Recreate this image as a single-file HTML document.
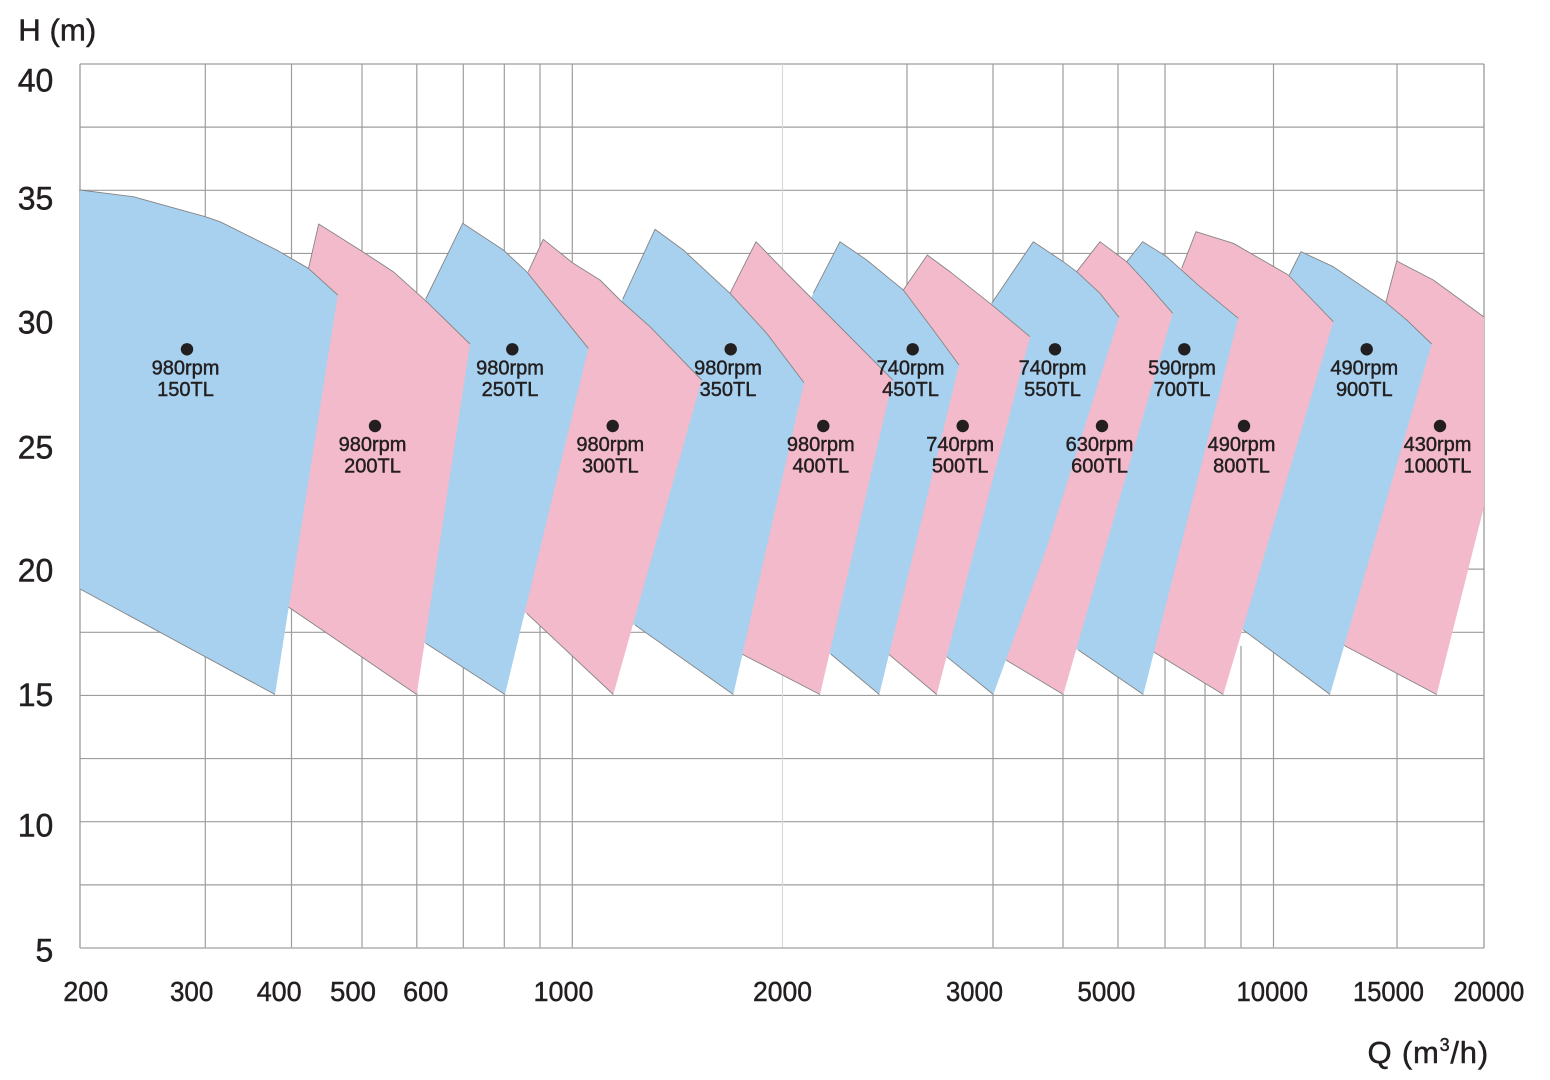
<!DOCTYPE html>
<html>
<head>
<meta charset="utf-8">
<style>
html,body{margin:0;padding:0;background:#fff;}
svg{display:block;}
text{font-family:"Liberation Sans",sans-serif;fill:#231f20;stroke:#231f20;stroke-width:0.45px;}
</style>
</head>
<body>
<svg width="1550" height="1080" viewBox="0 0 1550 1080" xmlns="http://www.w3.org/2000/svg">
<rect x="0" y="0" width="1550" height="1080" fill="#fff"/>

<!-- horizontal grid -->
<g stroke="#9d9d9d" stroke-width="1.2" fill="none">
<line x1="80" y1="64" x2="1484" y2="64"/>
<line x1="80" y1="127.14" x2="1484" y2="127.14"/>
<line x1="79" y1="190.29" x2="1484" y2="190.29"/>
<line x1="80" y1="253.43" x2="1484" y2="253.43"/>
<line x1="80" y1="316.57" x2="1484" y2="316.57"/>
<line x1="80" y1="379.71" x2="1484" y2="379.71"/>
<line x1="80" y1="442.86" x2="1484" y2="442.86"/>
<line x1="80" y1="506" x2="1484" y2="506"/>
<line x1="80" y1="569.14" x2="1484" y2="569.14"/>
<line x1="80" y1="632.29" x2="1484" y2="632.29"/>
<line x1="80" y1="695.43" x2="1484" y2="695.43"/>
<line x1="80" y1="758.57" x2="1484" y2="758.57"/>
<line x1="80" y1="821.71" x2="1484" y2="821.71"/>
<line x1="80" y1="884.86" x2="1484" y2="884.86"/>
</g>
<!-- vertical grid -->
<g stroke="#9d9d9d" stroke-width="1.2" fill="none">
<line x1="205.3" y1="64" x2="205.3" y2="948"/>
<line x1="291.5" y1="64" x2="291.5" y2="948"/>
<line x1="362" y1="64" x2="362" y2="948"/>
<line x1="416.8" y1="64" x2="416.8" y2="948"/>
<line x1="463.3" y1="64" x2="463.3" y2="948"/>
<line x1="504.3" y1="64" x2="504.3" y2="948"/>
<line x1="540" y1="64" x2="540" y2="948"/>
<line x1="572.3" y1="64" x2="572.3" y2="948"/>
<line x1="907" y1="64" x2="907" y2="600"/>
<line x1="993" y1="64" x2="993" y2="948"/>
<line x1="1063" y1="64" x2="1063" y2="948"/>
<line x1="1118" y1="64" x2="1118" y2="948"/>
<line x1="1165" y1="64" x2="1165" y2="948"/>
<line x1="1205" y1="600" x2="1205" y2="948"/>
<line x1="1241" y1="646" x2="1241" y2="948"/>
<line x1="1273.5" y1="64" x2="1273.5" y2="948"/>
<line x1="1397" y1="64" x2="1397" y2="948"/>
</g>
<line x1="782.5" y1="64" x2="782.5" y2="948" stroke="#d9d9d9" stroke-width="1.2"/>
<!-- borders -->
<line x1="80" y1="64" x2="80" y2="948" stroke="#9a9a9a" stroke-width="1.3"/>
<line x1="1484" y1="64" x2="1484" y2="948" stroke="#9a9a9a" stroke-width="1.3"/>
<line x1="80" y1="948" x2="1484" y2="948" stroke="#b0b0b0" stroke-width="1.6"/>

<!-- shapes: rightmost first so left shapes overlap -->
<g stroke-linejoin="round">
<!-- S14 1000TL pink -->
<path d="M1396.7,261 L1433.3,280 L1484,317 L1484,506.7 L1436.7,694.5 L1343.3,645 L1337,643 L1380,312 L1386,301.7 Z" fill="#f3bacb"/>
<path d="M1386,301.7 L1396.7,261 L1433.3,280 L1484,317 M1436.7,694.5 L1343.3,645" fill="none" stroke="#858585" stroke-width="0.9"/>
<!-- S13 900TL blue -->
<path d="M1301,251.7 L1333.3,266.7 L1385,301.7 L1406.7,320 L1431.7,344 L1330,694.5 L1243.3,630 L1237,628 L1283,287 L1289.3,275 Z" fill="#a7d1ef"/>
<path d="M1289.3,275 L1301,251.7 L1333.3,266.7 L1385,301.7 L1406.7,320 L1431.7,344 M1330,694.5 L1243.3,630" fill="none" stroke="#858585" stroke-width="0.9"/>
<!-- S12 800TL pink -->
<path d="M1196,231.7 L1233.3,243.3 L1288.3,275 L1333.3,321.7 L1223.3,694.5 L1153.3,651.7 L1147,650 L1175,280 L1181.7,268.3 Z" fill="#f3bacb"/>
<path d="M1181.7,268.3 L1196,231.7 L1233.3,243.3 L1288.3,275 L1333.3,321.7 M1223.3,694.5 L1153.3,651.7" fill="none" stroke="#858585" stroke-width="0.9"/>
<!-- S11 700TL blue -->
<path d="M1142.7,241.7 L1166.7,256.7 L1200,286.7 L1238.3,318.3 L1143.3,694.5 L1078.3,650 L1072,648 L1120,272 L1126.7,261.7 Z" fill="#a7d1ef"/>
<path d="M1126.7,261.7 L1142.7,241.7 L1166.7,256.7 L1200,286.7 L1238.3,318.3 M1143.3,694.5 L1078.3,650" fill="none" stroke="#858585" stroke-width="0.9"/>
<!-- S10 600TL pink -->
<path d="M1100,241.7 L1126.7,261.7 L1146.7,283.3 L1172.7,313.3 L1063.3,694.5 L1006,660 L1000,658 L1070,282 L1076.7,271.7 Z" fill="#f3bacb"/>
<path d="M1076.7,271.7 L1100,241.7 L1126.7,261.7 L1146.7,283.3 L1172.7,313.3 M1063.3,694.5 L1006,660" fill="none" stroke="#858585" stroke-width="0.9"/>
<!-- S9 550TL blue -->
<path d="M1033.3,241.7 L1063.3,261.7 L1076.7,271.7 L1100,293.3 L1119,317.3 L1046,550 L993.3,694.5 L946.7,656.7 L940,655 L985,312 L991.7,303.3 Z" fill="#a7d1ef"/>
<path d="M991.7,303.3 L1033.3,241.7 L1063.3,261.7 L1076.7,271.7 L1100,293.3 L1119,317.3 M993.3,694.5 L946.7,656.7" fill="none" stroke="#858585" stroke-width="0.9"/>
<!-- S8 500TL pink -->
<path d="M927.3,255 L950,271.7 L990,303.3 L1030,336.7 L936.7,694.5 L888.3,654 L882,653 L897,300 L903.3,290 Z" fill="#f3bacb"/>
<path d="M903.3,290 L927.3,255 L950,271.7 L990,303.3 L1030,336.7 M936.7,694.5 L888.3,654" fill="none" stroke="#858585" stroke-width="0.9"/>
<!-- S7 450TL blue -->
<path d="M840,241.7 L866.7,260 L903.3,290 L933.3,330 L959,365 L879.3,694.5 L830.7,654 L824,653 L808,305 L813.3,293.3 Z" fill="#a7d1ef"/>
<path d="M813.3,293.3 L840,241.7 L866.7,260 L903.3,290 L933.3,330 L959,365 M879.3,694.5 L830.7,654" fill="none" stroke="#858585" stroke-width="0.9"/>
<!-- S6 400TL pink -->
<path d="M756,241.7 L786.7,273.3 L833.3,320 L892.7,380 L820,694.5 L741.7,654 L735,653 L724,305 L730,293.3 Z" fill="#f3bacb"/>
<path d="M730,293.3 L756,241.7 L786.7,273.3 L833.3,320 L892.7,380 M820,694.5 L741.7,654" fill="none" stroke="#858585" stroke-width="0.9"/>
<!-- S5 350TL blue -->
<path d="M655,229.3 L683.3,250 L730,293.3 L766.7,333.3 L804,382.7 L733.3,694.5 L635,625 L628,624 L616,310 L622.7,299.3 Z" fill="#a7d1ef"/>
<path d="M622.7,299.3 L655,229.3 L683.3,250 L730,293.3 L766.7,333.3 L804,382.7 M733.3,694.5 L635,625" fill="none" stroke="#858585" stroke-width="0.9"/>
<!-- S4 300TL pink -->
<path d="M543.3,239.3 L573.3,263.3 L600,280 L620,300 L650,326.7 L701.7,380 L613.3,694.5 L526.7,613.3 L520,612 L521,282 L528.3,271.7 Z" fill="#f3bacb"/>
<path d="M528.3,271.7 L543.3,239.3 L573.3,263.3 L600,280 L620,300 L650,326.7 L701.7,380 M613.3,694.5 L526.7,613.3" fill="none" stroke="#858585" stroke-width="0.9"/>
<!-- S3 250TL blue -->
<path d="M462.7,223.3 L503.3,250 L526.7,271.7 L560,313.3 L588.3,348.3 L505,694.5 L425.7,643.3 L419,642 L419,306 L425.7,299 Z" fill="#a7d1ef"/>
<path d="M425.7,299 L462.7,223.3 L503.3,250 L526.7,271.7 L560,313.3 L588.3,348.3 M505,694.5 L425.7,643.3" fill="none" stroke="#858585" stroke-width="0.9"/>
<!-- S2 200TL pink -->
<path d="M318.7,224 L360,250 L393.3,271.7 L426.7,301.7 L470,344 L416.7,694.5 L288,606.7 L282,606 L300,282 L308,270.7 Z" fill="#f3bacb"/>
<path d="M308,270.7 L318.7,224 L360,250 L393.3,271.7 L426.7,301.7 L470,344 M416.7,694.5 L288,606.7" fill="none" stroke="#858585" stroke-width="0.9"/>
<!-- S1 150TL blue -->
<path d="M80,190 L133.3,196.7 L205.3,216.7 L220,221.7 L276.7,250 L308.3,268.3 L337.7,295 L275,694.5 L80,589 Z" fill="#a7d1ef"/>
<path d="M80,190 L133.3,196.7 L205.3,216.7 L220,221.7 L276.7,250 L308.3,268.3 L337.7,295 M275,694.5 L80,589" fill="none" stroke="#858585" stroke-width="0.9"/>
</g>

<!-- dots -->
<g fill="#231f20">
<circle cx="187" cy="349.3" r="6.2"/>
<circle cx="512.3" cy="349.3" r="6.2"/>
<circle cx="730.7" cy="349.3" r="6.2"/>
<circle cx="912.7" cy="349.3" r="6.2"/>
<circle cx="1055" cy="349.3" r="6.2"/>
<circle cx="1184.3" cy="349.3" r="6.2"/>
<circle cx="1366.7" cy="349.3" r="6.2"/>
<circle cx="375" cy="426" r="6.2"/>
<circle cx="612.7" cy="426" r="6.2"/>
<circle cx="823.3" cy="426" r="6.2"/>
<circle cx="962.7" cy="426" r="6.2"/>
<circle cx="1102" cy="426" r="6.2"/>
<circle cx="1244" cy="426" r="6.2"/>
<circle cx="1440" cy="426" r="6.2"/>
</g>

<!-- series labels -->
<g font-size="20" text-anchor="middle">
<text x="185.5" y="374.3">980rpm</text><text x="185.5" y="396">150TL</text>
<text x="510" y="374.3">980rpm</text><text x="510" y="396">250TL</text>
<text x="728" y="374.3">980rpm</text><text x="728" y="396">350TL</text>
<text x="910.5" y="374.3">740rpm</text><text x="910.5" y="396">450TL</text>
<text x="1052.5" y="374.3">740rpm</text><text x="1052.5" y="396">550TL</text>
<text x="1182" y="374.3">590rpm</text><text x="1182" y="396">700TL</text>
<text x="1364.3" y="374.3">490rpm</text><text x="1364.3" y="396">900TL</text>
<text x="372.5" y="451">980rpm</text><text x="372.5" y="472.7">200TL</text>
<text x="610.3" y="451">980rpm</text><text x="610.3" y="472.7">300TL</text>
<text x="820.8" y="451">980rpm</text><text x="820.8" y="472.7">400TL</text>
<text x="960.2" y="451">740rpm</text><text x="960.2" y="472.7">500TL</text>
<text x="1099.5" y="451">630rpm</text><text x="1099.5" y="472.7">600TL</text>
<text x="1241.5" y="451">490rpm</text><text x="1241.5" y="472.7">800TL</text>
<text x="1437.5" y="451">430rpm</text><text x="1437.5" y="472.7">1000TL</text>
</g>

<!-- axis titles -->
<text x="18.3" y="40.7" font-size="31" textLength="78" lengthAdjust="spacingAndGlyphs">H (m)</text>
<text x="1367.5" y="1063" font-size="31" letter-spacing="0.8">Q (m<tspan font-size="18" dy="-12">3</tspan><tspan dy="12">/h)</tspan></text>

<!-- y tick labels -->
<g font-size="32" text-anchor="end">
<text x="53.3" y="91.7">40</text>
<text x="53.3" y="209.5">35</text>
<text x="53.3" y="333.3">30</text>
<text x="53.3" y="458.5">25</text>
<text x="53.3" y="581.5">20</text>
<text x="53.3" y="706">15</text>
<text x="53.3" y="836.7">10</text>
<text x="53.3" y="961.5">5</text>
</g>

<!-- x tick labels -->
<g font-size="28">
<text x="63.3" y="1001" textLength="45" lengthAdjust="spacingAndGlyphs">200</text>
<text x="170" y="1001" textLength="43.3" lengthAdjust="spacingAndGlyphs">300</text>
<text x="256.7" y="1001" textLength="45" lengthAdjust="spacingAndGlyphs">400</text>
<text x="330" y="1001" textLength="46" lengthAdjust="spacingAndGlyphs">500</text>
<text x="403" y="1001" textLength="45.4" lengthAdjust="spacingAndGlyphs">600</text>
<text x="533.5" y="1001" textLength="60" lengthAdjust="spacingAndGlyphs">1000</text>
<text x="753" y="1001" textLength="59" lengthAdjust="spacingAndGlyphs">2000</text>
<text x="946" y="1001" textLength="57" lengthAdjust="spacingAndGlyphs">3000</text>
<text x="1077.4" y="1001" textLength="58" lengthAdjust="spacingAndGlyphs">5000</text>
<text x="1236.5" y="1001" textLength="71.5" lengthAdjust="spacingAndGlyphs">10000</text>
<text x="1353" y="1001" textLength="71" lengthAdjust="spacingAndGlyphs">15000</text>
<text x="1453.6" y="1001" textLength="70.7" lengthAdjust="spacingAndGlyphs">20000</text>
</g>
</svg>
</body>
</html>
